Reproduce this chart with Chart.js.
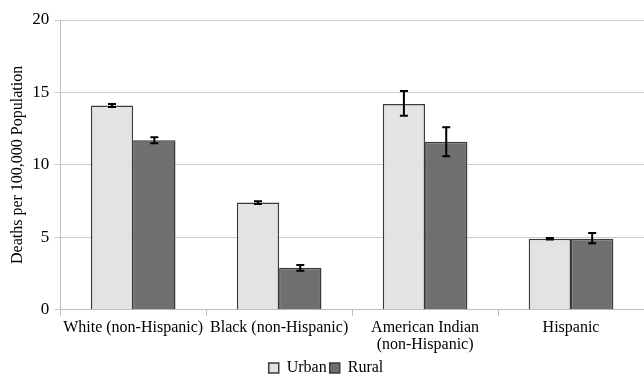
<!DOCTYPE html>
<html>
<head>
<meta charset="utf-8">
<script src="https://cdn.jsdelivr.net/npm/chart.js@4"></script>
<style>
  body { margin: 0; background: #fff; }
</style>
</head>
<body>
<canvas id="myChart" width="644" height="378"></canvas>
<script>
// categories and values
const categories = [
  'White (non-Hispanic)',
  'Black (non-Hispanic)',
  ['American Indian', '(non-Hispanic)'],
  'Hispanic'
];
const urban = [14.1, 7.4, 14.2, 4.9];
const rural = [11.7, 2.9, 11.6, 4.9];
// error bar ends
const urbanLow = [14.0, 7.3, 13.4, 4.85];
const urbanHigh = [14.2, 7.5, 15.1, 4.95];
const ruralLow = [11.5, 2.7, 10.6, 4.6];
const ruralHigh = [11.9, 3.1, 12.6, 5.3];
const yTicks = [0, 5, 10, 15, 20];

const serif = 'Liberation Serif, Times New Roman, serif';

// draws the error bars on top of each bar
const errorBars = {
  id: 'errorBars',
  afterDatasetsDraw(chart) {
    const ctx = chart.ctx;
    const y = chart.scales.y;
    chart.data.datasets.forEach((ds, i) => {
      const meta = chart.getDatasetMeta(i);
      meta.data.forEach((bar, j) => {
        const top = y.getPixelForValue(ds.errHigh[j]);
        const bot = y.getPixelForValue(ds.errLow[j]);
        ctx.save();
        ctx.strokeStyle = '#000';
        ctx.lineWidth = 2;
        ctx.beginPath();
        ctx.moveTo(bar.x, top);
        ctx.lineTo(bar.x, bot);
        ctx.moveTo(bar.x - 4, top);
        ctx.lineTo(bar.x + 4, top);
        ctx.moveTo(bar.x - 4, bot);
        ctx.lineTo(bar.x + 4, bot);
        ctx.stroke();
        ctx.restore();
      });
    });
  }
};

const data = {
  labels: categories,
  datasets: [
    {
      label: 'Urban',
      data: urban,
      errLow: urbanLow,
      errHigh: urbanHigh,
      backgroundColor: '#e3e3e3',
      borderColor: '#3a3a3a',
      borderWidth: 1.5
    },
    {
      label: 'Rural',
      data: rural,
      errLow: ruralLow,
      errHigh: ruralHigh,
      backgroundColor: '#6f6f6f',
      borderColor: '#3a3a3a',
      borderWidth: 1.5
    }
  ]
};

const config = {
  type: 'bar',
  data: data,
  options: {
    responsive: false,
    animation: false,
    layout: { padding: { top: 20, right: 0, left: 8, bottom: -8 } },
    datasets: {
      bar: { categoryPercentage: 0.58, barPercentage: 1.0 }
    },
    scales: {
      x: {
        grid: {
          offset: true,
          drawOnChartArea: false,
          color: '#bdbdbd',
          tickLength: 6
        },
        border: { color: '#bdbdbd' },
        ticks: {
          color: '#000',
          font: { family: serif, size: 16, lineHeight: 1.1 },
          maxRotation: 0,
          padding: 3
        }
      },
      y: {
        min: 0,
        max: 20,
        afterBuildTicks(axis) {
          axis.ticks = yTicks.map(v => ({ value: v }));
        },
        grid: { color: '#cccccc', tickLength: 6 },
        border: { color: '#bdbdbd' },
        ticks: {
          color: '#000',
          font: { family: serif, size: 17 },
          padding: 5
        },
        title: {
          display: true,
          text: 'Deaths per 100,000 Population',
          color: '#000',
          font: { family: serif, size: 16 },
          padding: { top: 0, bottom: 0 }
        }
      }
    },
    plugins: {
      legend: {
        position: 'bottom',
        labels: {
          color: '#000',
          font: { family: serif, size: 16 },
          boxWidth: 10,
          boxHeight: 10,
          padding: 3
        }
      },
      tooltip: { enabled: false }
    }
  },
  plugins: [errorBars]
};

const myChart = new Chart(document.getElementById('myChart'), config);
</script>
</body>
</html>
